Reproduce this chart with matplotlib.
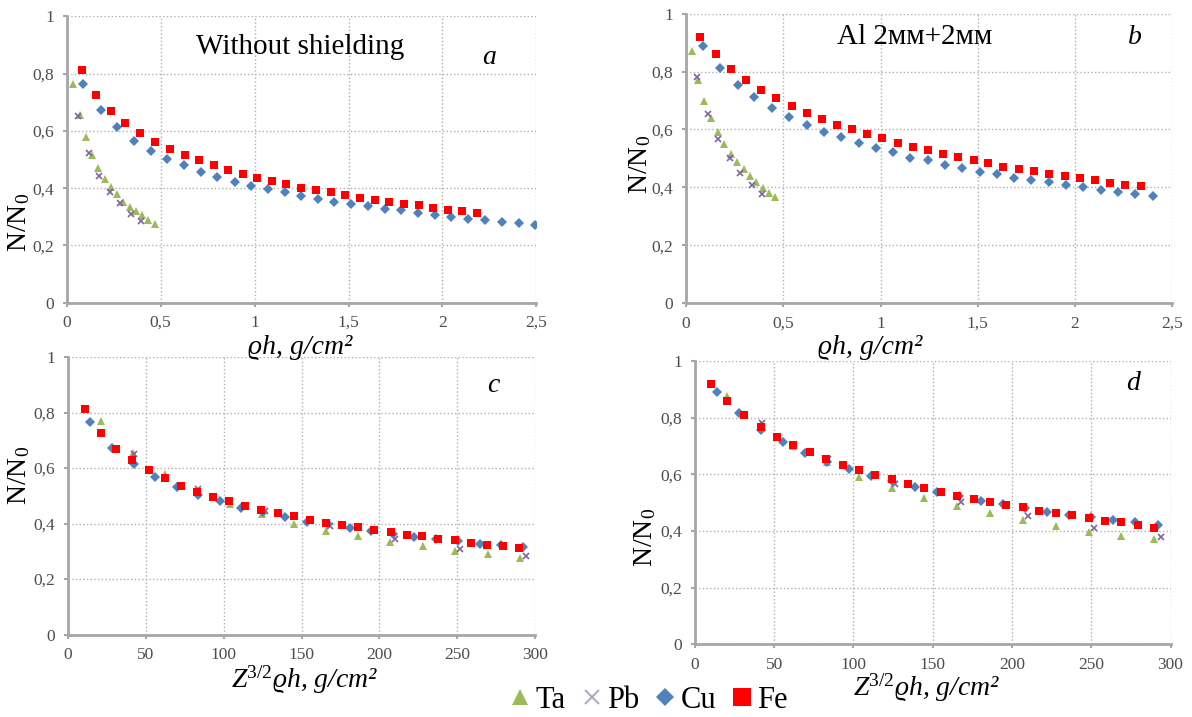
import matplotlib
matplotlib.use("Agg")
import matplotlib.pyplot as plt
from matplotlib.lines import Line2D
from matplotlib.ticker import FuncFormatter

plt.rcParams['font.family'] = ['Liberation Serif', 'DejaVu Serif']
plt.rcParams['mathtext.fontset'] = 'custom'
plt.rcParams['mathtext.rm'] = 'Liberation Serif'
plt.rcParams['mathtext.it'] = 'Liberation Serif:italic'

# ---- panel a: without shielding, x = rho*h ----
a_ta_x = [0.034, 0.070, 0.101, 0.135, 0.167, 0.202, 0.236, 0.268, 0.300, 0.335, 0.367, 0.401, 0.433, 0.468]
a_ta_y = [0.765, 0.655, 0.578, 0.516, 0.471, 0.433, 0.405, 0.378, 0.352, 0.334, 0.319, 0.305, 0.290, 0.276]
a_pb_x = [0.059, 0.116, 0.173, 0.228, 0.285, 0.342, 0.397]
a_pb_y = [0.653, 0.523, 0.442, 0.386, 0.347, 0.310, 0.285]
a_cu_x = [0.089, 0.181, 0.270, 0.359, 0.447, 0.534, 0.624, 0.713, 0.800, 0.894, 0.981, 1.070, 1.160, 1.247,
          1.337, 1.424, 1.513, 1.605, 1.694, 1.781, 1.871, 1.960, 2.048, 2.137, 2.226, 2.317, 2.407, 2.494]
a_cu_y = [0.765, 0.672, 0.613, 0.566, 0.531, 0.502, 0.480, 0.457, 0.440, 0.422, 0.407, 0.397, 0.385, 0.373,
          0.362, 0.353, 0.345, 0.336, 0.328, 0.322, 0.314, 0.307, 0.299, 0.293, 0.287, 0.281, 0.277, 0.270]
a_fe_x = [0.082, 0.158, 0.238, 0.312, 0.392, 0.470, 0.549, 0.627, 0.705, 0.783, 0.861, 0.939, 1.013, 1.093,
          1.169, 1.249, 1.325, 1.405, 1.483, 1.561, 1.639, 1.717, 1.795, 1.873, 1.951, 2.027, 2.105, 2.183]
a_fe_y = [0.814, 0.727, 0.669, 0.628, 0.593, 0.563, 0.537, 0.515, 0.497, 0.480, 0.463, 0.449, 0.437, 0.426,
          0.413, 0.402, 0.393, 0.385, 0.376, 0.367, 0.359, 0.352, 0.345, 0.340, 0.330, 0.324, 0.319, 0.314]

# ---- panel b: Al 2mm+2mm, x = rho*h ----
b_ta_x = [0.029, 0.062, 0.095, 0.128, 0.163, 0.195, 0.230, 0.261, 0.296, 0.329, 0.362, 0.395, 0.428, 0.459]
b_ta_y = [0.870, 0.772, 0.700, 0.640, 0.591, 0.551, 0.517, 0.489, 0.462, 0.439, 0.418, 0.397, 0.382, 0.368]
b_pb_x = [0.054, 0.111, 0.167, 0.224, 0.280, 0.337, 0.393]
b_pb_y = [0.782, 0.654, 0.566, 0.501, 0.451, 0.410, 0.378]
b_cu_x = [0.086, 0.175, 0.265, 0.352, 0.442, 0.531, 0.621, 0.710, 0.798, 0.887, 0.977, 1.064, 1.154, 1.243,
          1.331, 1.420, 1.510, 1.597, 1.687, 1.776, 1.866, 1.953, 2.043, 2.132, 2.222, 2.309, 2.399]
b_cu_y = [0.887, 0.813, 0.755, 0.711, 0.675, 0.643, 0.617, 0.593, 0.574, 0.553, 0.536, 0.521, 0.503, 0.493,
          0.478, 0.467, 0.454, 0.446, 0.434, 0.426, 0.417, 0.409, 0.400, 0.392, 0.383, 0.377, 0.369]
b_fe_x = [0.074, 0.152, 0.230, 0.309, 0.387, 0.463, 0.543, 0.621, 0.700, 0.774, 0.852, 0.932, 1.010, 1.089,
          1.165, 1.243, 1.321, 1.399, 1.479, 1.554, 1.632, 1.712, 1.790, 1.868, 1.946, 2.025, 2.103, 2.181,
          2.259, 2.337]
b_fe_y = [0.920, 0.859, 0.810, 0.770, 0.736, 0.707, 0.680, 0.657, 0.637, 0.616, 0.600, 0.583, 0.569, 0.555,
          0.540, 0.528, 0.517, 0.506, 0.493, 0.485, 0.472, 0.464, 0.455, 0.447, 0.438, 0.432, 0.424, 0.416,
          0.410, 0.405]

# ---- panel c: without shielding, x = Z^3/2 rho*h ----
c_ta_x = [21.0, 42.0, 62.3, 83.0, 104.0, 124.5, 145.0, 166.0, 186.5, 207.0, 228.0, 248.5, 269.5, 290.0]
c_ta_y = [0.768, 0.654, 0.578, 0.519, 0.471, 0.433, 0.400, 0.374, 0.354, 0.332, 0.318, 0.300, 0.290, 0.276]
c_pb_x = [42.2, 83.7, 126.5, 168.0, 210.0, 252.0, 293.8]
c_pb_y = [0.652, 0.525, 0.444, 0.390, 0.344, 0.309, 0.284]
c_cu_x = [13.9, 28.3, 42.2, 56.1, 69.8, 83.4, 97.5, 111.4, 125.0, 139.6, 153.2, 167.1, 181.2, 194.8,
          208.8, 222.4, 236.3, 250.7, 264.6, 278.2, 292.2]
c_cu_y = [0.765, 0.672, 0.613, 0.566, 0.531, 0.502, 0.480, 0.457, 0.440, 0.422, 0.407, 0.397, 0.385, 0.373,
          0.362, 0.353, 0.345, 0.336, 0.328, 0.322, 0.314]
c_fe_x = [10.8, 21.1, 30.9, 41.3, 52.0, 62.3, 72.7, 82.7, 93.3, 103.6, 113.7, 124.2, 134.8, 145.1,
          155.4, 165.7, 176.0, 186.3, 196.7, 207.2, 217.5, 227.6, 237.9, 248.5, 258.5, 268.9, 279.2, 289.9]
c_fe_y = [0.813, 0.728, 0.669, 0.630, 0.593, 0.563, 0.537, 0.515, 0.497, 0.480, 0.463, 0.449, 0.438, 0.426,
          0.413, 0.403, 0.395, 0.386, 0.377, 0.368, 0.359, 0.354, 0.345, 0.339, 0.331, 0.324, 0.319, 0.313]

# ---- panel d: Al 2mm+2mm, x = Z^3/2 rho*h ----
d_ta_x = [20.5, 41.4, 62.0, 83.0, 103.8, 124.3, 144.8, 165.5, 186.4, 207.0, 227.6, 248.8, 269.0, 289.8]
d_ta_y = [0.877, 0.776, 0.701, 0.642, 0.589, 0.550, 0.517, 0.488, 0.462, 0.438, 0.418, 0.397, 0.383, 0.370]
d_pb_x = [42.4, 84.0, 126.0, 168.0, 210.0, 252.0, 294.0]
d_pb_y = [0.782, 0.654, 0.566, 0.503, 0.452, 0.411, 0.379]
d_cu_x = [13.8, 27.8, 41.4, 55.3, 69.3, 83.0, 97.2, 111.0, 124.6, 138.8, 152.6, 166.4, 180.6, 194.6,
          208.3, 222.3, 236.0, 249.9, 263.8, 277.8, 291.8]
d_cu_y = [0.889, 0.815, 0.757, 0.713, 0.675, 0.644, 0.619, 0.595, 0.576, 0.554, 0.538, 0.523, 0.505, 0.495,
          0.480, 0.468, 0.456, 0.450, 0.437, 0.430, 0.421]
d_fe_x = [10.0, 20.5, 31.0, 41.4, 51.7, 62.1, 72.4, 82.9, 93.1, 103.3, 113.8, 124.3, 134.5, 144.8,
          155.0, 165.5, 176.0, 186.2, 196.4, 206.9, 217.1, 227.6, 237.9, 248.3, 258.6, 269.0, 279.3, 289.8]
d_fe_y = [0.919, 0.858, 0.808, 0.768, 0.733, 0.703, 0.679, 0.655, 0.633, 0.615, 0.597, 0.582, 0.567, 0.551,
          0.537, 0.525, 0.514, 0.502, 0.491, 0.483, 0.471, 0.462, 0.455, 0.444, 0.436, 0.430, 0.422, 0.412]

elements = ["Ta", "Pb", "Cu", "Fe"]
styles = {
    "Ta": dict(marker="^", color="#9BBB59", ms=6, mew=0),
    "Pb": dict(marker="x", color="#8064A2", ms=5, mew=1.2),
    "Cu": dict(marker="D", color="#4F81BD", ms=4.6, mew=0),
    "Fe": dict(marker="s", color="#FF0000", ms=6.2, mew=0),
}

panels = [
    dict(rect=[0.056, 0.578, 0.394, 0.399], xmax=2.5, xticks=[0, 0.5, 1, 1.5, 2, 2.5],
         data={"Ta": (a_ta_x, a_ta_y), "Pb": (a_pb_x, a_pb_y), "Cu": (a_cu_x, a_cu_y), "Fe": (a_fe_x, a_fe_y)},
         letter="a", title="Without shielding", title_xy=(300, 47), letter_xy=(489, 58),
         ylab_xy=(19, 222), xlab="ϱh, g/cm²", xlab_xy=(300, 348)),
    dict(rect=[0.5755, 0.577, 0.408, 0.404], xmax=2.5, xticks=[0, 0.5, 1, 1.5, 2, 2.5],
         data={"Ta": (b_ta_x, b_ta_y), "Pb": (b_pb_x, b_pb_y), "Cu": (b_cu_x, b_cu_y), "Fe": (b_fe_x, b_fe_y)},
         letter="b", title="Al 2мм+2мм", title_xy=(915, 37), letter_xy=(1135, 37),
         ylab_xy=(640, 164), xlab="ϱh, g/cm²", xlab_xy=(870, 348)),
    dict(rect=[0.057, 0.115, 0.392, 0.387], xmax=300, xticks=[0, 50, 100, 150, 200, 250, 300],
         data={"Ta": (c_ta_x, c_ta_y), "Pb": (c_pb_x, c_pb_y), "Cu": (c_cu_x, c_cu_y), "Fe": (c_fe_x, c_fe_y)},
         letter="c", title=None, title_xy=None, letter_xy=(493, 385),
         ylab_xy=(19, 475), xlab=r"Z$^{3/2}$ϱh, g/cm²", xlab_xy=(305, 680)),
    dict(rect=[0.583, 0.1015, 0.399, 0.395], xmax=300, xticks=[0, 50, 100, 150, 200, 250, 300],
         data={"Ta": (d_ta_x, d_ta_y), "Pb": (d_pb_x, d_pb_y), "Cu": (d_cu_x, d_cu_y), "Fe": (d_fe_x, d_fe_y)},
         letter="d", title=None, title_xy=None, letter_xy=(1133, 383),
         ylab_xy=(645, 537), xlab=r"Z$^{3/2}$ϱh, g/cm²", xlab_xy=(927, 688)),
]

W, H = 1192, 717
fig = plt.figure(figsize=(W / 100, H / 100), dpi=100)


def px(x, y):
    return x / W, 1 - y / H


def comma(v, pos):
    s = ("%g" % v).replace(".", ",")
    return s


for p in panels:
    ax = fig.add_axes(p["rect"])
    for el in elements:
        xs, ys = p["data"][el]
        ax.plot(xs, ys, ls="none", **styles[el])
    ax.set_xlim(0, p["xmax"])
    ax.set_ylim(0, 1)
    ax.set_xticks(p["xticks"])
    ax.set_yticks([0, 0.2, 0.4, 0.6, 0.8, 1])
    ax.xaxis.set_major_formatter(FuncFormatter(comma))
    ax.yaxis.set_major_formatter(FuncFormatter(comma))
    ax.grid(True, ls=":", color="#B0B0B0", lw=1)
    ax.set_axisbelow(True)
    for s in ["top", "right"]:
        ax.spines[s].set_visible(False)
    for s in ["left", "bottom"]:
        ax.spines[s].set_color("#A6A6A6")
        ax.spines[s].set_linewidth(2)
    ax.tick_params(colors="#A6A6A6", labelcolor="#4D4D4D", labelsize=12.5, length=3, width=1.5, pad=6)

    fig.text(*px(*p["ylab_xy"]), r"$\mathregular{N/N_0}$", rotation=90, fontsize=20,
             ha="center", va="center")
    fig.text(*px(*p["xlab_xy"]), p["xlab"], fontsize=20, style="italic", ha="center", va="center")
    fig.text(*px(*p["letter_xy"]), p["letter"], fontsize=20, style="italic", ha="center", va="center")
    if p["title"]:
        fig.text(*px(*p["title_xy"]), p["title"], fontsize=21, ha="center", va="center")

handles = []
for el in elements:
    st = dict(styles[el])
    st["ms"] = st["ms"] * 2.0
    if el == "Pb":
        st["color"] = "#B3A2C7"
        st["mew"] = 1.4
    handles.append(Line2D([], [], ls="none", **st))
fig.legend(handles, elements, loc="center", bbox_to_anchor=px(648, 700), ncol=4, frameon=False,
           fontsize=22, handletextpad=0.1, columnspacing=0.45, handlelength=0.8, borderpad=0.1)

fig.savefig("out.png", dpi=100)
